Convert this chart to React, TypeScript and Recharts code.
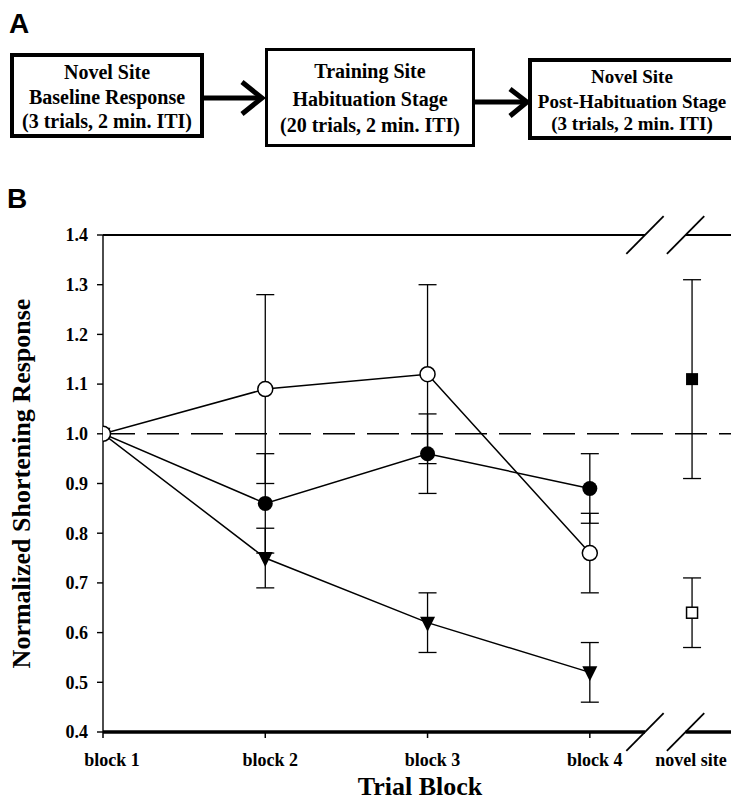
import {
  ComposedChart, Line, Scatter, ErrorBar, XAxis, YAxis, ReferenceLine,
} from 'recharts'

// x-axis categories and where they sit on the numeric axis (novel site is past the break)
const CATEGORIES = ['block 1', 'block 2', 'block 3', 'block 4', 'novel site']
const TICK_POS = [1, 2, 3, 4, 4.63]
const X_DOMAIN: [number, number] = [1, 4.87]
const BREAKS = [4.34, 4.59]

const Y_TICKS = [0.4, 0.5, 0.6, 0.7, 0.8, 0.9, 1.0, 1.1, 1.2, 1.3, 1.4]

// series values (blocks 1-4) and their error bars
const OPEN_CIRCLE = [1.0, 1.09, 1.12, 0.76]
const OPEN_CIRCLE_ERR = [0, 0.19, 0.18, 0.08]
const FILLED_CIRCLE = [1.0, 0.86, 0.96, 0.89]
const FILLED_CIRCLE_ERR = [0, 0.10, 0.08, 0.07]
const TRIANGLE = [1.0, 0.75, 0.62, 0.52]
const TRIANGLE_ERR = [0, 0.06, 0.06, 0.06]

// novel site test
const NOVEL_FILLED = [1.11]
const NOVEL_FILLED_ERR = [0.20]
const NOVEL_OPEN = [0.64]
const NOVEL_OPEN_ERR = [0.07]

const toRows = (vals: number[], errs: number[], offset = 0) =>
  vals.map((y, i) => ({ x: TICK_POS[i + offset], y, err: errs[i] }))

const openRows = toRows(OPEN_CIRCLE, OPEN_CIRCLE_ERR)
const filledRows = toRows(FILLED_CIRCLE, FILLED_CIRCLE_ERR)
const triRows = toRows(TRIANGLE, TRIANGLE_ERR)
const novelFilledRows = toRows(NOVEL_FILLED, NOVEL_FILLED_ERR, 4)
const novelOpenRows = toRows(NOVEL_OPEN, NOVEL_OPEN_ERR, 4)

const SERIF = '"Liberation Serif", "Times New Roman", serif'
const SANS = '"Liberation Sans", Arial, sans-serif'

function XTick(props: any) {
  const { x, y, payload } = props
  const i = TICK_POS.indexOf(payload.value)
  const dx = i === 0 ? 9 : i === 4 ? -1 : 5
  return (
    <g>
      {i < 4 && <line x1={x} y1={y - 6} x2={x} y2={y} stroke="#000" strokeWidth={1.5} />}
      <text x={x + dx} y={y + 28} textAnchor="middle" fontFamily={SERIF} fontWeight="bold" fontSize={18} fill="#000">
        {CATEGORIES[i]}
      </text>
    </g>
  )
}

const openDot = (p: any) => (
  <circle key={`o${p.index}`} cx={p.cx} cy={p.cy} r={7.5} fill="#fff" stroke="#000" strokeWidth={1.5} />
)
const filledDot = (p: any) => (
  <circle key={`f${p.index}`} cx={p.cx} cy={p.cy} r={7.5} fill="#000" />
)
const triDot = (p: any) => (
  <polygon
    key={`t${p.index}`}
    points={`${p.cx - 7.5},${p.cy - 6} ${p.cx + 7.5},${p.cy - 6} ${p.cx},${p.cy + 9}`}
    fill="#000"
  />
)
const filledSquare = (p: any) => <rect x={p.cx - 6} y={p.cy - 6} width={12} height={12} fill="#000" />
const openSquare = (p: any) => (
  <rect x={p.cx - 5.5} y={p.cy - 5.5} width={11} height={11} fill="#fff" stroke="#000" strokeWidth={1.5} />
)

function slash(cx: number, cy: number) {
  return [{ x: cx - 0.115, y: cy - 0.038 }, { x: cx + 0.115, y: cy + 0.038 }]
}

function PanelA() {
  const txt = { fontFamily: SERIF, fontWeight: 'bold' as const, fontSize: 20, textAnchor: 'middle' as const, fill: '#000' }
  const txt3 = { ...txt, fontSize: 19 }
  return (
    <svg width={731} height={801} style={{ position: 'absolute', left: 0, top: 0, pointerEvents: 'none' }}>
      <text x={9} y={33} fontFamily={SANS} fontWeight="bold" fontSize={28}>A</text>
      <text x={7} y={208} fontFamily={SANS} fontWeight="bold" fontSize={28}>B</text>

      <rect x={12} y={55} width={190} height={81} fill="#fff" stroke="#000" strokeWidth={4} />
      <text {...txt} x={107} y={79}>Novel Site</text>
      <text {...txt} x={107} y={104}>Baseline Response</text>
      <text {...txt} x={107} y={128}>(3 trials, 2 min. ITI)</text>

      <line x1={204} y1={98} x2={259} y2={98} stroke="#000" strokeWidth={5} />
      <polyline points="242,82 262,98 242,114" fill="none" stroke="#000" strokeWidth={5} />

      <rect x={266.5} y={49.5} width={207} height={96} fill="#fff" stroke="#000" strokeWidth={3} />
      <text {...txt} x={370} y={78}>Training Site</text>
      <text {...txt} x={370} y={106}>Habituation Stage</text>
      <text {...txt} x={370} y={132}>(20 trials, 2 min. ITI)</text>

      <line x1={475} y1={102} x2={524} y2={102} stroke="#000" strokeWidth={5} />
      <polyline points="510,89 527,102 510,116" fill="none" stroke="#000" strokeWidth={5} />

      <rect x={530} y={60} width={215} height={78} fill="#fff" stroke="#000" strokeWidth={4} />
      <text {...txt3} x={632} y={83}>Novel Site</text>
      <text {...txt3} x={632} y={108}>Post-Habituation Stage</text>
      <text {...txt3} x={632} y={130}>(3 trials, 2 min. ITI)</text>
    </svg>
  )
}

export default function App() {
  return (
    <div style={{ position: 'absolute', left: 0, top: 0, width: 731, height: 801, background: '#fff', overflow: 'hidden' }}>
      <ComposedChart width={731} height={801} margin={{ top: 235, right: 0, bottom: 0, left: 0 }}>
        <XAxis
          dataKey="x"
          type="number"
          domain={X_DOMAIN}
          allowDataOverflow
          ticks={TICK_POS}
          interval={0}
          height={69}
          axisLine={false}
          tickLine={false}
          tickSize={6}
          tickMargin={0}
          tick={<XTick />}
          label={{
            value: 'Trial Block',
            position: 'insideBottom',
            offset: 6,
            dx: 3,
            style: { fill: '#000', fontSize: 26, fontWeight: 'bold', fontFamily: SERIF },
          }}
        />
        <YAxis
          type="number"
          domain={[0.4, 1.4]}
          allowDataOverflow
          ticks={Y_TICKS}
          interval={0}
          width={103}
          tickFormatter={(v: number) => v.toFixed(1)}
          axisLine={{ stroke: '#000', strokeWidth: 1.4 }}
          tickLine={{ stroke: '#000', strokeWidth: 1.4 }}
          tickSize={6}
          tickMargin={9}
          tick={{ fill: '#000', fontSize: 18, fontWeight: 'bold', fontFamily: SERIF }}
          label={{
            value: 'Normalized Shortening Response',
            angle: -90,
            position: 'insideLeft',
            offset: 21,
            style: { textAnchor: 'middle', fill: '#000', fontSize: 26, fontWeight: 'bold', fontFamily: SERIF },
          }}
        />

        <ReferenceLine y={1.0} stroke="#000" strokeWidth={1.5} strokeDasharray="32 12" />

        {/* top frame and x axis, both with a break */}
        <ReferenceLine segment={[{ x: X_DOMAIN[0], y: 1.4 }, { x: BREAKS[0], y: 1.4 }]} stroke="#000" strokeWidth={2} ifOverflow="visible" />
        <ReferenceLine segment={[{ x: BREAKS[1], y: 1.4 }, { x: X_DOMAIN[1], y: 1.4 }]} stroke="#000" strokeWidth={2} ifOverflow="visible" />
        <ReferenceLine segment={[{ x: X_DOMAIN[0], y: 0.4 }, { x: BREAKS[0], y: 0.4 }]} stroke="#000" strokeWidth={3.5} ifOverflow="visible" />
        <ReferenceLine segment={[{ x: BREAKS[1], y: 0.4 }, { x: X_DOMAIN[1], y: 0.4 }]} stroke="#000" strokeWidth={3.5} ifOverflow="visible" />
        {BREAKS.map((b) => (
          <ReferenceLine key={`t${b}`} segment={slash(b, 1.4)} stroke="#000" strokeWidth={1.8} ifOverflow="visible" />
        ))}
        {BREAKS.map((b) => (
          <ReferenceLine key={`b${b}`} segment={slash(b, 0.4)} stroke="#000" strokeWidth={1.8} ifOverflow="visible" />
        ))}

        <Line data={triRows} dataKey="y" stroke="#000" strokeWidth={1.5} dot={triDot} activeDot={false} isAnimationActive={false}>
          <ErrorBar dataKey="err" width={9} stroke="#000" strokeWidth={1.3} />
        </Line>
        <Line data={filledRows} dataKey="y" stroke="#000" strokeWidth={1.5} dot={filledDot} activeDot={false} isAnimationActive={false}>
          <ErrorBar dataKey="err" width={9} stroke="#000" strokeWidth={1.3} />
        </Line>
        <Line data={openRows} dataKey="y" stroke="#000" strokeWidth={1.5} dot={openDot} activeDot={false} isAnimationActive={false}>
          <ErrorBar dataKey="err" width={9} stroke="#000" strokeWidth={1.3} />
        </Line>

        <Scatter data={novelFilledRows} dataKey="y" shape={filledSquare} isAnimationActive={false}>
          <ErrorBar dataKey="err" direction="y" width={9} stroke="#000" strokeWidth={1.3} />
        </Scatter>
        <Scatter data={novelOpenRows} dataKey="y" shape={openSquare} isAnimationActive={false}>
          <ErrorBar dataKey="err" direction="y" width={9} stroke="#000" strokeWidth={1.3} />
        </Scatter>
      </ComposedChart>
      <PanelA />
    </div>
  )
}
